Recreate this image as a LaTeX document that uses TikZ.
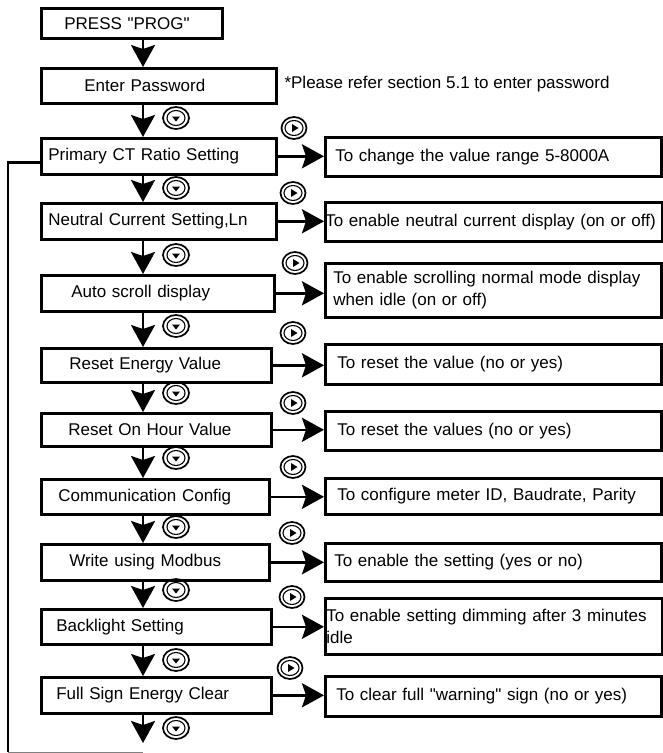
\documentclass[tikz,border=0pt]{standalone}
\usepackage{fontspec}
\newfontfamily\arialfont{Liberation Sans}
\usetikzlibrary{positioning}
\usetikzlibrary{arrows.meta}
\usetikzlibrary{calc}

\tikzset{
    stepbox/.style={draw, line width=2.6pt, anchor=north west, align=left, inner ysep=0pt},
    infobox/.style={draw, line width=2.6pt, anchor=north west, align=left, inner ysep=0pt,
        inner xsep=10pt, text width=316pt},
    flow/.style={line width=2.6pt, -{Stealth[length=22pt, width=24pt, inset=4pt]}},
    downkey/.pic={
        \draw[line width=1.7pt] (0,0) ellipse [x radius=13pt, y radius=11pt];
        \draw[line width=1.1pt] (0,0) ellipse [x radius=9pt, y radius=7.5pt];
        \fill (-4,-1.5) -- (4,-1.5) -- (0,3.5) -- cycle;
    },
    rightkey/.pic={
        \draw[line width=1.7pt] (0,0) ellipse [x radius=12.5pt, y radius=11pt];
        \draw[line width=1.1pt] (0,0) ellipse [x radius=9pt, y radius=7.5pt];
        \fill (-2,-4) -- (-2,4) -- (4.5,0) -- cycle;
    }
}

\begin{document}
\begin{tikzpicture}[x=1pt, y=-1pt, font=\arialfont\fontsize{17}{22}\selectfont]
    \useasboundingbox (0,0) rectangle (663,753);

    % main chain
    \node[stepbox, inner xsep=23pt, text width=135pt, minimum height=30pt] (press) at (40,7) {PRESS "PROG"};
    \node[stepbox, inner xsep=43pt, text width=149pt, minimum height=35pt] (pwd) at (40,67) {Enter Password};
    \node[stepbox, inner xsep=7pt, text width=221pt, minimum height=36pt] (ct) at (40,137) {Primary CT Ratio Setting};
    \node[stepbox, inner xsep=7pt, text width=221pt, minimum height=36pt] (neutral) at (40,202) {Neutral Current Setting,Ln};
    \node[stepbox, inner xsep=30pt, text width=173pt, minimum height=36pt] (scroll) at (40,274) {Auto scroll display};
    \node[stepbox, inner xsep=28pt, text width=174pt, minimum height=34pt] (energy) at (40,347) {Reset Energy Value};
    \node[stepbox, inner xsep=27pt, text width=176pt, minimum height=33pt] (hour) at (40,412) {Reset On Hour Value};
    \node[stepbox, inner xsep=17pt, text width=194pt, minimum height=35pt] (comm) at (40,478) {Communication Config};
    \node[stepbox, inner xsep=28pt, text width=172pt, minimum height=36pt] (modbus) at (40,543) {Write using Modbus};
    \node[stepbox, inner xsep=15pt, text width=200pt, minimum height=35pt] (backlight) at (40,608) {Backlight Setting};
    \node[stepbox, inner xsep=15pt, text width=200pt, minimum height=36pt] (fullsign) at (40,676) {Full Sign Energy Clear};

    \node[anchor=west] (note) at (281,84) {*Please refer section 5.1 to enter password};

    % value boxes
    \node[infobox, minimum height=39pt] (ctinfo) at (324,136) {To change the value range 5-8000A};
    \node[infobox, inner xsep=0pt, text width=337pt, minimum height=39pt] (neutralinfo) at (324,201) {To enable neutral current display (on or off)};
    \node[infobox, inner xsep=8pt, text width=320pt, minimum height=54pt] (scrollinfo) at (324,262) {To enable scrolling normal mode display\\when idle (on or off)};
    \node[infobox, inner xsep=12pt, text width=312pt, minimum height=40pt] (energyinfo) at (324,343) {To reset the value (no or yes)};
    \node[infobox, inner xsep=12pt, text width=312pt, minimum height=39pt] (hourinfo) at (324,410) {To reset the values (no or yes)};
    \node[infobox, inner xsep=12pt, text width=312pt, minimum height=36pt] (comminfo) at (324,477) {To configure meter ID, Baudrate, Parity};
    \node[infobox, inner xsep=9pt, text width=318pt, minimum height=38pt] (modbusinfo) at (324,542) {To enable the setting (yes or no)};
    \node[infobox, inner xsep=1pt, text width=335pt, minimum height=56pt] (backlightinfo) at (324,597) {To enable setting dimming after 3 minutes\\idle};
    \node[infobox, inner xsep=11pt, text width=314pt, minimum height=40pt] (fullsigninfo) at (324,675) {To clear full "warning" sign (no or yes)};

    \coordinate (spine) at (143,0);
    \coordinate (tail) at (143,743);
    \coordinate (loopcorner) at (8,752);
    \coordinate (loopend) at (143,752);

    % down arrows
    \foreach \a/\b in {press/pwd, pwd/ct, ct/neutral, neutral/scroll, scroll/energy,
        energy/hour, hour/comm, comm/modbus, modbus/backlight, backlight/fullsign}
        \draw[flow] (\a.south -| spine) -- (\b.north -| spine);
    \draw[flow] (fullsign.south -| spine) -- (tail);

    % side arrows
    \foreach \a in {ct, neutral, scroll, energy, hour, comm, modbus, backlight, fullsign}
        \draw[flow] (\a.east) -- (\a.east -| \a info.west);

    % loop back
    \draw[line width=2.6pt] ([yshift=-6pt]ct.west) -| (loopcorner);
    \draw[gray, line width=1pt] (loopcorner) -- (loopend);

    % keys
    \foreach \y in {118, 188, 255, 326, 393, 458, 527, 590, 660, 728}
        \pic at (176,\y) {downkey};
    \foreach \x/\y in {294/128, 293/193, 295/263, 293/333, 293/403, 293/467, 292/533, 292/597, 290/668}
        \pic at (\x,\y) {rightkey};
\end{tikzpicture}
\end{document}
